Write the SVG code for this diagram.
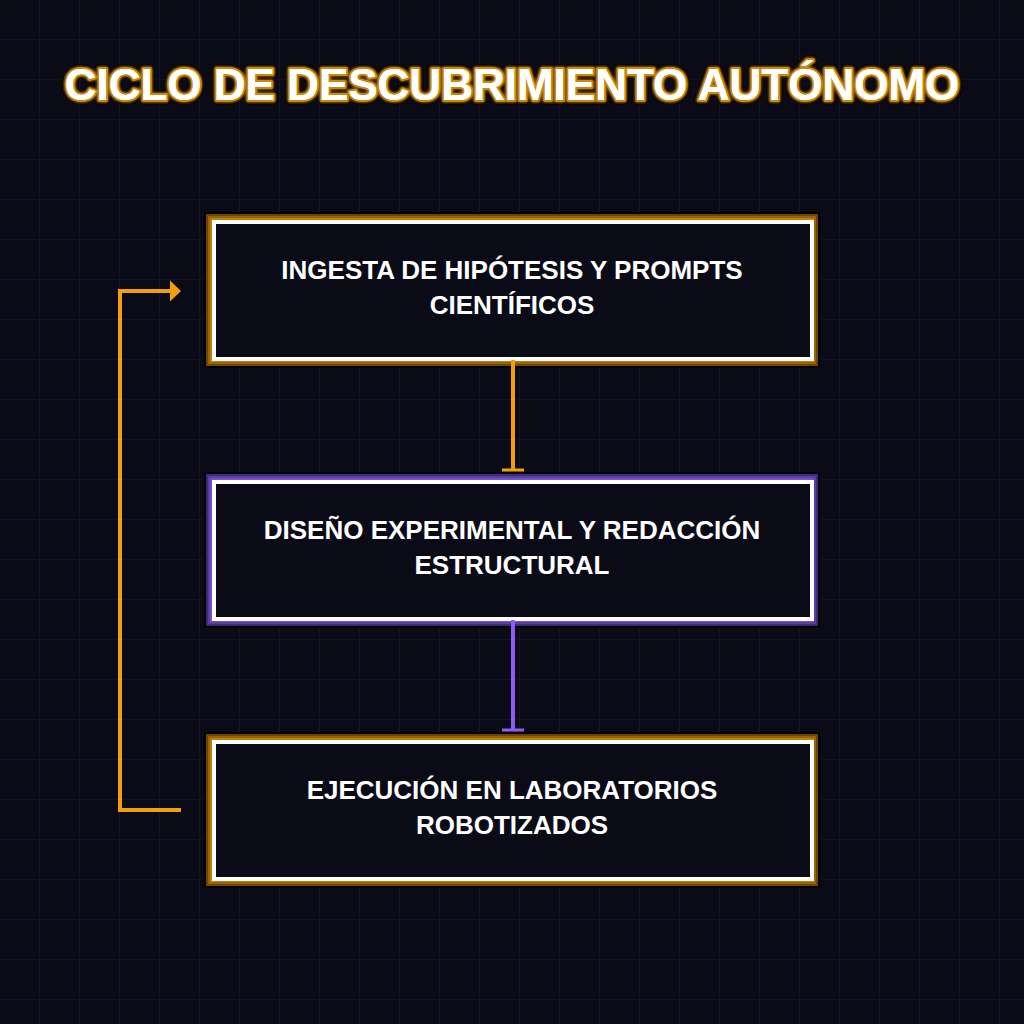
<svg xmlns="http://www.w3.org/2000/svg" width="1024" height="1024" viewBox="0 0 1024 1024">
  <defs>
    <pattern id="grid" width="40" height="40" patternUnits="userSpaceOnUse">
      <path d="M40 0 V40 M0 40 H40" fill="none" stroke="#1b1a2e" stroke-width="1.2"/>
    </pattern>
    <marker id="arrow" markerWidth="12" markerHeight="22" refX="1" refY="11" orient="auto" markerUnits="userSpaceOnUse">
      <path d="M1 0.5 L12 11 L1 21.5 Z" fill="#f59e0b"/>
    </marker>
    <marker id="barO" markerWidth="22" markerHeight="4" refX="11" refY="2" orient="0" markerUnits="userSpaceOnUse">
      <rect x="0" y="0.5" width="22" height="3" fill="#f59e0b"/>
    </marker>
    <marker id="barP" markerWidth="22" markerHeight="4" refX="11" refY="2" orient="0" markerUnits="userSpaceOnUse">
      <rect x="0" y="0.5" width="22" height="3" fill="#8b5cf6"/>
    </marker>
    <filter id="glow" x="-10%" y="-50%" width="120%" height="200%">
      <feGaussianBlur stdDeviation="1.2"/>
    </filter>
  </defs>
  <style>
    .bg { fill: #0b0b18; }
    .shadow { fill: #000000; }
    .inner { fill: #0b0b18; stroke: #ffffff; stroke-width: 4; }
    .label { font-family: "Liberation Sans", Arial, sans-serif; font-weight: bold; font-size: 26px; fill: #ffffff; text-anchor: middle; }
    .title { font-family: "Liberation Sans", Arial, sans-serif; font-weight: bold; font-size: 44px; text-anchor: middle; }
    .conn { fill: none; stroke-width: 4; }
  </style>
  <rect class="bg" x="0" y="0" width="1024" height="1024"/>
  <rect x="0" y="0" width="1024" height="1024" fill="url(#grid)"/>

  <g id="title">
    <text class="title" x="512" y="100" fill="#000" stroke="#000" stroke-width="10" stroke-linejoin="round">CICLO DE DESCUBRIMIENTO AUTÓNOMO</text>
    <text class="title" x="512" y="100" fill="#b7770a" stroke="#8a5a06" stroke-width="6" stroke-linejoin="round" filter="url(#glow)">CICLO DE DESCUBRIMIENTO AUTÓNOMO</text>
    <text class="title" x="512" y="100" fill="#ffffff" stroke="#c88a12" stroke-width="4" stroke-linejoin="round" paint-order="stroke">CICLO DE DESCUBRIMIENTO AUTÓNOMO</text>
    <text class="title" x="512" y="100" fill="#ffffff">CICLO DE DESCUBRIMIENTO AUTÓNOMO</text>
  </g>

  <g id="node1">
    <rect class="shadow" x="204" y="212" width="616" height="156"/>
    <rect x="206" y="214" width="612" height="152" fill="#6e4604"/>
    <rect x="208" y="216" width="608" height="148" fill="#9a6406"/>
    <rect x="210" y="218" width="604" height="144" fill="#c07e0a"/>
    <rect class="inner" x="214" y="222" width="598" height="137"/>
    <text class="label" x="512" y="279">INGESTA DE HIPÓTESIS Y PROMPTS</text>
    <text class="label" x="512" y="314">CIENTÍFICOS</text>
  </g>

  <g id="node2">
    <rect class="shadow" x="204" y="472" width="616" height="156"/>
    <rect x="206" y="474" width="612" height="152" fill="#3e2a78"/>
    <rect x="208" y="476" width="608" height="148" fill="#5a3ea8"/>
    <rect x="210" y="478" width="604" height="144" fill="#7450cc"/>
    <rect class="inner" x="214" y="482" width="598" height="137"/>
    <text class="label" x="512" y="539">DISEÑO EXPERIMENTAL Y REDACCIÓN</text>
    <text class="label" x="512" y="574">ESTRUCTURAL</text>
  </g>

  <g id="node3">
    <rect class="shadow" x="204" y="732" width="616" height="156"/>
    <rect x="206" y="734" width="612" height="152" fill="#6e4604"/>
    <rect x="208" y="736" width="608" height="148" fill="#9a6406"/>
    <rect x="210" y="738" width="604" height="144" fill="#c07e0a"/>
    <rect class="inner" x="214" y="742" width="598" height="137"/>
    <text class="label" x="512" y="799">EJECUCIÓN EN LABORATORIOS</text>
    <text class="label" x="512" y="834">ROBOTIZADOS</text>
  </g>

  <g id="connectors">
    <path class="conn" d="M513 360 V470" stroke="#f59e0b" marker-end="url(#barO)"/>
    <path class="conn" d="M513 620 V730" stroke="#8b5cf6" marker-end="url(#barP)"/>
    <path class="conn" d="M181 810 H120 V291 H170" stroke="#f59e0b" marker-end="url(#arrow)"/>
  </g>
</svg>
